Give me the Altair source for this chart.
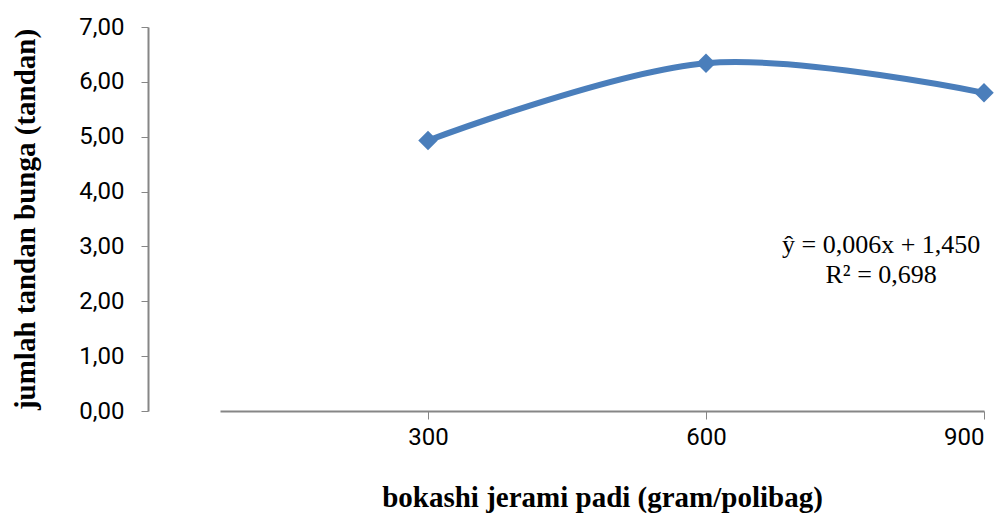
import altair as alt
import pandas as pd

doses = [300, 600, 900]
flowers = [4.93, 6.34, 5.80]
eq_lines = ["ŷ = 0,006x + 1,450", "R² = 0,698"]
eq_x = [789, 789]
eq_y = [3.03, 2.48]
y_ticks = [0, 1, 2, 3, 4, 5, 6, 7]
x_ticks = [300, 600, 900]

df = pd.DataFrame({"dose": doses, "val": flowers})
eq = pd.DataFrame({"t": eq_lines, "x": eq_x, "y": eq_y})

xs = alt.Scale(domain=[75.5, 900], nice=False, zero=False)
ys = alt.Scale(domain=[0, 7], nice=False)

x_axis = alt.Axis(
    values=x_ticks, format="d", title="bokashi jerami padi (gram/polibag)",
    grid=False, domainColor="#868686", domainWidth=2, tickColor="#868686",
    tickSize=8, tickWidth=1, labelFont="Roboto", labelFontSize=24, labelColor="#000000",
    labelPadding=6, titleFont="Liberation Serif", titleFontSize=29, titleFontWeight="bold",
    titleColor="#000000", titlePadding=34,
)
y_axis = alt.Axis(
    values=y_ticks, labelExpr="replace(format(datum.value, '.2f'), '.', ',')",
    title="jumlah tandan bunga (tandan)", offset=72,
    grid=False, domainColor="#868686", domainWidth=2, tickColor="#868686",
    tickSize=7, tickWidth=1, labelFont="Roboto", labelFontSize=24, labelColor="#000000",
    labelPadding=17, titleFont="Liberation Serif", titleFontSize=29, titleFontWeight="bold",
    titleColor="#000000", titlePadding=38,
)

base = alt.Chart(df)
line = base.mark_line(interpolate="cardinal", color="#4a7ebb", strokeWidth=6).encode(
    x=alt.X("dose:Q", scale=xs, axis=x_axis),
    y=alt.Y("val:Q", scale=ys, axis=y_axis),
)
points = base.mark_point(shape="diamond", filled=True, size=380, color="#4a7ebb", opacity=1).encode(
    x=alt.X("dose:Q", scale=xs),
    y=alt.Y("val:Q", scale=ys),
)
text = alt.Chart(eq).mark_text(font="Liberation Serif", fontSize=26, color="#000000").encode(
    x=alt.X("x:Q", scale=xs),
    y=alt.Y("y:Q", scale=ys),
    text="t:N",
)

chart = alt.layer(line, points, text).properties(
    width=764, height=384,
    padding={"left": 212, "top": 19, "right": 11, "bottom": 102},
    autosize=alt.AutoSizeParams(type="none"),
).configure_view(stroke=None)

chart.save("out.html", embed_options={"renderer": "svg", "actions": False})
